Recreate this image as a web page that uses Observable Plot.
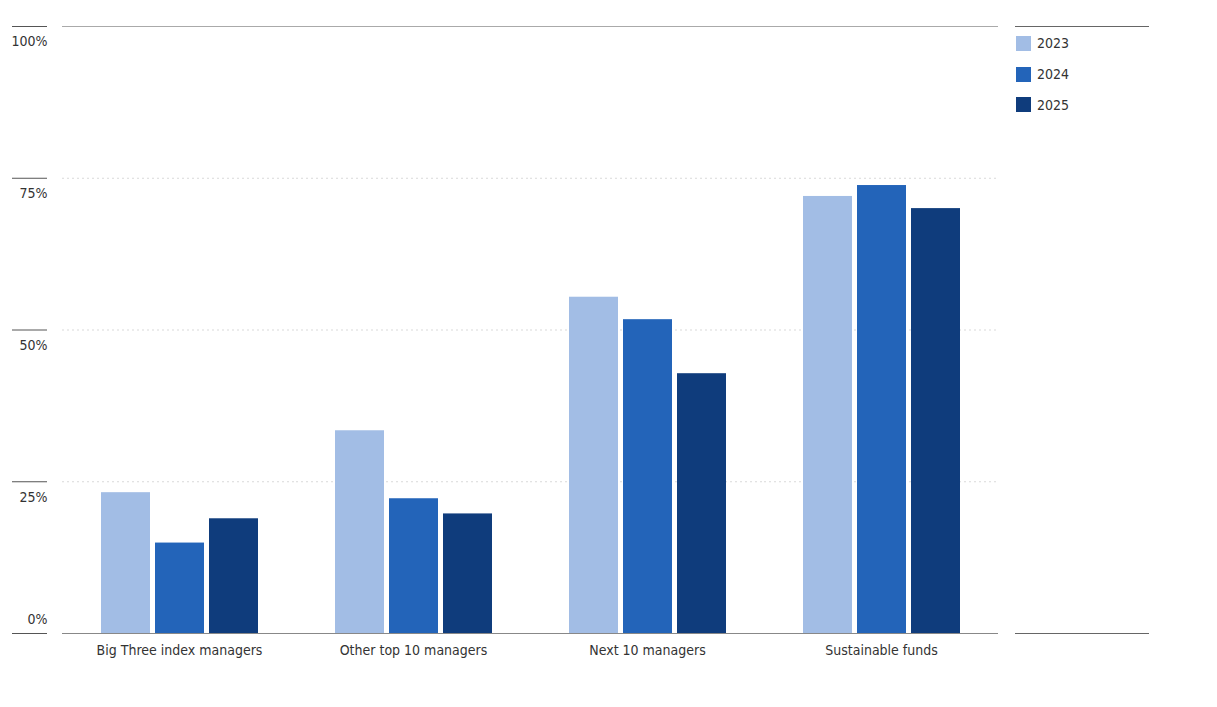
<!DOCTYPE html>
<html>
<head>
<meta charset="utf-8">
<script src="https://cdn.jsdelivr.net/npm/d3@7"></script>
<script src="https://cdn.jsdelivr.net/npm/@observablehq/plot@0.6"></script>
<style>
  html, body { margin: 0; padding: 0; background: #fff; }
  body { font-family: "Liberation Sans Narrow", "DejaVu Sans Condensed", "Roboto", sans-serif; }
  #wrap { position: relative; width: 1217px; height: 707px; }
  #chart { position: absolute; left: 0; top: 0; }
  #legend { position: absolute; left: 1015px; top: 26px; width: 134px; height: 606px;
            border-top: 1px solid #666; border-bottom: 1px solid #666; }
  .item { display: flex; align-items: center; height: 30.7px; font-size: 14px; color: #333; }
  .sw { width: 15px; height: 15px; margin-left: 1px; margin-right: 6px; }
</style>
</head>
<body>
<div id="wrap">
  <div id="chart"></div>
  <div id="legend"><div style="height:1px"></div></div>
</div>
<script>
const categories = ["Big Three index managers", "Other top 10 managers", "Next 10 managers", "Sustainable funds"];
const years = ["2023", "2024", "2025"];
const colors = ["#A2BDE5", "#2364B9", "#0F3C7C"];
const values2023 = [23.2, 33.4, 55.4, 72.0];
const values2024 = [14.9, 22.2, 51.7, 73.8];
const values2025 = [18.9, 19.7, 42.8, 70.0];
const yTicks = [0, 25, 50, 75, 100];

const series = [values2023, values2024, values2025];
const data = [];
categories.forEach((c, i) => years.forEach((y, j) => data.push({category: c, year: y, value: series[j][i]})));

const font = `"Liberation Sans Narrow", "DejaVu Sans Condensed", "Roboto", sans-serif`;
const first = () => categories[0];

const chart = Plot.plot({
  width: 1000,
  height: 680,
  marginLeft: 62,
  marginRight: 2,
  marginTop: 26,
  marginBottom: 47,
  style: {fontFamily: font, fontSize: "14px", color: "#333", background: "transparent"},
  fx: {domain: categories, paddingInner: 0.325, paddingOuter: 0.1625, axis: null, label: null},
  x: {domain: years, paddingInner: 0.1, paddingOuter: 0, axis: null, label: null},
  y: {domain: [0, 100], axis: null, label: null},
  color: {domain: years, range: colors},
  marks: [
    Plot.ruleY([25, 50, 75], {stroke: "#d9d9d9", strokeDasharray: "2,3", insetLeft: -38, insetRight: -38}),
    Plot.ruleY([100], {stroke: "#aaa", insetLeft: -38, insetRight: -38}),
    Plot.ruleY(yTicks, {fx: first, y: d => d, stroke: "#555", insetLeft: -88, insetRight: 211}),
    Plot.text(yTicks.filter(d => d > 0), {fx: first, y: d => d, text: d => d + "%", frameAnchor: "left", textAnchor: "end", dx: -53, dy: 15.5, fill: "#333"}),
    Plot.text([0], {fx: first, y: d => d, text: d => d + "%", frameAnchor: "left", textAnchor: "end", dx: -53, dy: -14, fill: "#333"}),
    Plot.barY(data, {fx: "category", x: "year", y: "value", fill: "year"}),
    Plot.ruleY([0], {stroke: "#888", insetLeft: -38, insetRight: -38}),
    Plot.axisFx({anchor: "bottom", tickSize: 0, tickPadding: 12, label: null, fill: "#333"})
  ]
});
document.getElementById("chart").appendChild(chart);

const legend = d3.select("#legend");
years.forEach((y, i) => {
  const it = legend.append("div").attr("class", "item");
  it.append("div").attr("class", "sw").style("background", colors[i]);
  it.append("span").text(y);
});
</script>
</body>
</html>
